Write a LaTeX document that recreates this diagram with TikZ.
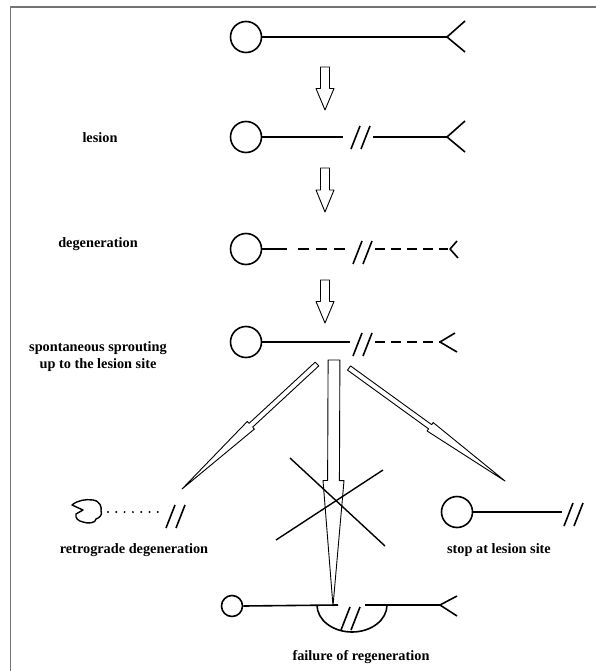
\documentclass[tikz,border=0pt]{standalone}
\usepackage{fontspec}
\setmainfont{Liberation Serif}
\usetikzlibrary{calc}
\newcommand{\hollowarrow}[5]{%
  \coordinate (hb) at ($(#1)!#5!(#2)$);
  \draw[hollow] ($(#1)!#3pt!90:(#2)$) -- ($(hb)!#3pt!-90:(#1)$) -- ($(hb)!#4pt!-90:(#1)$) -- (#2) -- ($(hb)!#4pt!90:(#1)$) -- ($(hb)!#3pt!90:(#1)$) -- ($(#1)!#3pt!-90:(#2)$) -- cycle;}
\newcommand{\cutmark}[2]{%
  \draw[axon] ({#1-9},{#2+12}) -- ({#1},{#2-11});
  \draw[axon] ({#1+1},{#2+12}) -- ({#1+10},{#2-11});}
\begin{document}
\begin{tikzpicture}[x=1pt,y=-1pt,line join=round]
\tikzset{
  axon/.style={line width=1.6pt},
  soma/.style={circle,draw,line width=1.6pt,inner sep=0pt,minimum size=31pt},
  smallsoma/.style={circle,draw,line width=1.6pt,inner sep=0pt,minimum size=21pt},
  hollow/.style={draw,line width=0.9pt,fill=white},
  lbl/.style={font=\bfseries\fontsize{14.3}{17}\selectfont,align=center,inner sep=0pt},
  frameline/.style={draw=black!55,line width=1.5pt},
  dashaxon/.style={line width=1.6pt,dash pattern=on 10pt off 6pt},
  dasha/.style={line width=1.6pt,dash pattern=on 11pt off 7pt},
}
\useasboundingbox (0,0) rectangle (596,671);
% frame
\coordinate (fb) at (10.5,671);
\coordinate (fc) at (10.5,7);
\coordinate (fr) at (596,7);
\draw[frameline] (fb) -- (fc) -- (fr);

% row 1
\node[soma] (s1) at (246,37) {};
\coordinate (e1) at (447,37);
\draw[axon] (s1.east) -- (e1);
\draw[axon] (465,21) -- (e1) -- (465,52);

% arrow 1
\coordinate (a1s) at (325,67); \coordinate (a1t) at (325,110);
\hollowarrow{a1s}{a1t}{4.5}{9}{0.5}

% row 2
\node[lbl] (l2) at (100,138) {lesion};
\node[soma] (s2) at (246,137) {};
\coordinate (c2) at (343,137);
\draw[axon] (s2.east) -- (c2);
\cutmark{360}{137}
\coordinate (d2) at (373,137); \coordinate (e2) at (447,137);
\draw[axon] (d2) -- (e2);
\draw[axon] (465,121) -- (e2) -- (465,152);

% arrow 2
\coordinate (a2s) at (325,168); \coordinate (a2t) at (325,212);
\hollowarrow{a2s}{a2t}{4.5}{9}{0.5}

% row 3
\node[lbl] (l3) at (98,244) {degeneration};
\node[soma] (s3) at (246,249) {};
\draw[axon] (s3.east) -- (287,249);
\draw[dasha] (298,249) -- (347,249);
\cutmark{362}{252}
\draw[dashaxon] (375,249) -- (448,249);
\draw[axon] (457,241) -- (450,249) -- (458,258);

% arrow 3
\coordinate (a3s) at (325,280); \coordinate (a3t) at (325,323);
\hollowarrow{a3s}{a3t}{4.5}{9}{0.5}

% row 4
\node[lbl] (l4) at (98,357) {spontaneous sprouting\\up to the lesion site};
\node[soma] (s4) at (246,342) {};
\draw[axon] (s4.east) -- (350,342);
\cutmark{362}{344}
\draw[dashaxon] (375,342) -- (440,342);
\draw[axon] (455,333) -- (440,342) -- (457,352);

% long arrows
\coordinate (las) at (317,364); \coordinate (lat) at (182,489);
\hollowarrow{las}{lat}{2.6}{5.2}{0.49}
\coordinate (ras) at (349,368); \coordinate (rat) at (505,481);
\hollowarrow{ras}{rat}{2.6}{5.2}{0.52}
\coordinate (mas) at (334,360); \coordinate (mat) at (333,606);
\hollowarrow{mas}{mat}{5.9}{10.5}{0.49}

% cross
\draw[line width=1.4pt] (290,458) -- (385,546);
\draw[line width=1.4pt] (383,470) -- (276,540);

% bottom left: retrograde degeneration
\draw[line width=1.4pt] (72,505) .. controls (78,500) and (86,499) .. (93,500)
  .. controls (100,501) and (102,507) .. (101,511)
  .. controls (103,515) and (99,518) .. (96,519)
  .. controls (96,523) and (88,524) .. (83,522)
  .. controls (78,521) and (75,518) .. (76,514) -- (83,510) -- cycle;
\foreach \i in {0,...,6} \fill ({108+8.3*\i},512) circle (1.1);
\cutmark{175}{516}
\node[lbl] (l5) at (134,550) {retrograde degeneration};

% bottom right: stop at lesion site
\node[soma] (s6) at (457,512) {};
\draw[axon] (s6.east) -- (562,512);
\cutmark{573}{514}
\node[lbl] (l6) at (499,550) {stop at lesion site};

% bottom: failure of regeneration
\node[smallsoma] (s7) at (232,606) {};
\draw[axon] (s7.east) -- (338,605);
\draw[axon] (317,605) arc[start angle=180,end angle=0,x radius=35,y radius=27];
\cutmark{350}{618}
\coordinate (e7) at (440,605);
\draw[axon] (365,605) -- (e7);
\draw[axon] (457,596) -- (e7) -- (457,616);
\node[lbl] (l7) at (361,657) {failure of regeneration};
\end{tikzpicture}
\end{document}
